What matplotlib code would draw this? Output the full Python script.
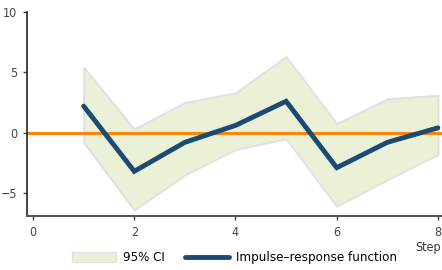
import matplotlib
matplotlib.use('Agg')
import matplotlib.pyplot as plt
from matplotlib.patches import Patch
from matplotlib.lines import Line2D

# data
steps = [1, 2, 3, 4, 5, 6, 7, 8]
irf = [2.2, -3.2, -0.8, 0.6, 2.6, -2.9, -0.8, 0.4]
ci_upper = [5.4, 0.3, 2.5, 3.3, 6.3, 0.75, 2.8, 3.1]
ci_lower = [-0.8, -6.4, -3.5, -1.4, -0.5, -6.1, -3.9, -1.8]
xticks = [0, 2, 4, 6, 8]
yticks = [-5, 0, 5, 10]

plt.rcParams['font.family'] = ['DejaVu Sans']
plt.rcParams['font.stretch'] = 'condensed'

fig = plt.figure(figsize=(4.42, 2.70), dpi=100)
ax = fig.add_axes([0.061, 0.2, 0.939, 0.756])

ax.fill_between(steps, ci_lower, ci_upper, facecolor='#ebf1d6',
                edgecolor='#e2e2e2', linewidth=1.5, zorder=1)
ax.axhline(0, color='#f7860f', linewidth=2.2, zorder=2)
ax.plot(steps, irf, color='#1b4a72', linewidth=3.5,
        solid_capstyle='round', solid_joinstyle='miter', zorder=3)

ax.set_xlim(-0.12, 8.08)
ax.set_ylim(-6.9, 10)
ax.set_xticks(xticks)
ax.set_yticks(yticks)
ax.set_yticklabels(['\u22125' if v == -5 else str(v) for v in yticks])

for side in ['top', 'right']:
    ax.spines[side].set_visible(False)
ax.spines['left'].set_color('#222222')
ax.spines['bottom'].set_color('#555555')
ax.spines['left'].set_linewidth(1.2)
ax.spines['bottom'].set_linewidth(1.5)
ax.tick_params(axis='both', labelsize=9, colors='#444444', length=3,
               width=1, pad=4)
ax.tick_params(axis='y', pad=4)

fig.text(0.997, 0.085, 'Step', ha='right', va='center', fontsize=9,
         color='#333333')

handles = [Patch(facecolor='#ebf1d6', edgecolor='#e2e2e2', label='95% CI'),
           Line2D([0], [0], color='#1b4a72', linewidth=3.5,
                  solid_capstyle='round', label='Impulse\u2013response function')]
fig.legend(handles=handles, loc='center', bbox_to_anchor=(0.53, 0.045),
           ncol=2, frameon=False, fontsize=9.5, handlelength=3.4,
           handletextpad=0.5, columnspacing=1.5, handleheight=0.8)

fig.savefig('out.png', dpi=100)
